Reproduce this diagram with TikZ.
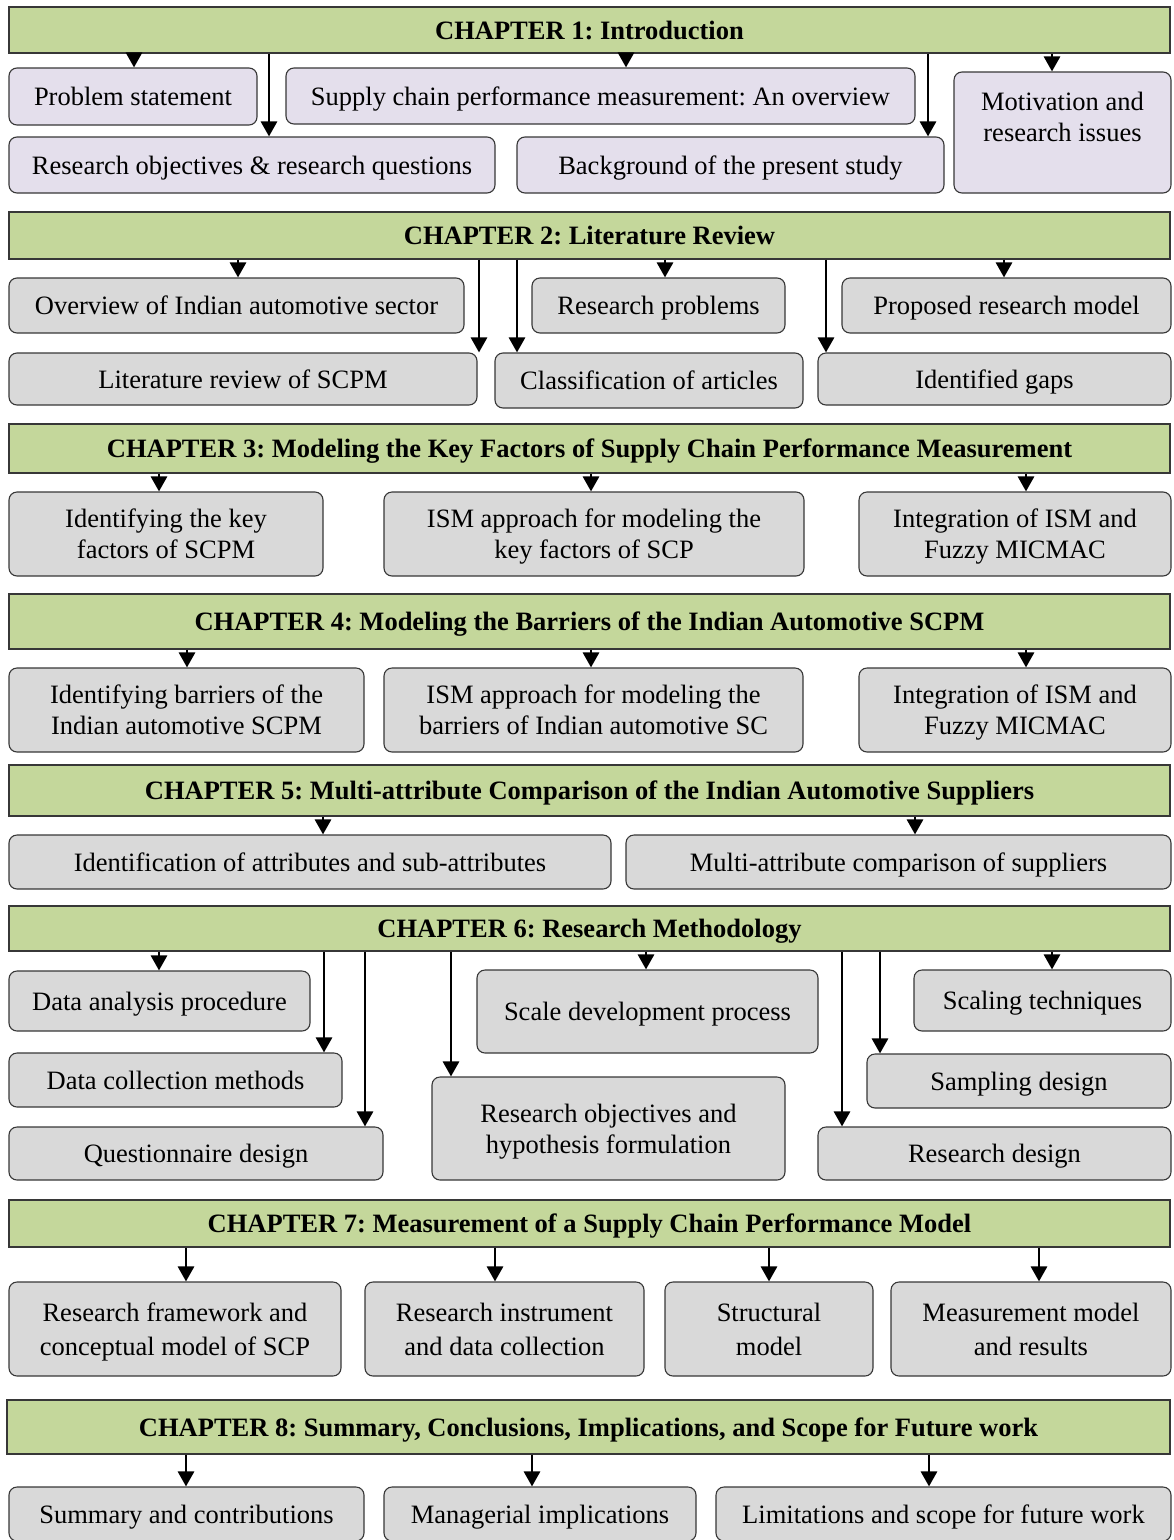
\documentclass[tikz,border=0pt]{standalone}
\usepackage{fontspec}
\setmainfont{Liberation Serif}
\usetikzlibrary{arrows.meta}
\definecolor{hdrgreen}{RGB}{196,215,155}
\definecolor{boxlav}{RGB}{228,223,236}
\definecolor{boxgrey}{RGB}{217,217,217}
\definecolor{edgegrey}{RGB}{55,55,55}
\tikzset{
  base/.style={draw=edgegrey, line width=1.1pt, inner sep=0pt, align=center,
    text depth=0pt, font=\fontsize{26.5}{31}\selectfont\frenchspacing},
  chapter/.style={base, fill=hdrgreen,
    font=\fontsize{26.5}{31}\selectfont\frenchspacing\bfseries},
  lavbox/.style={base, fill=boxlav, rounded corners=8pt},
  greybox/.style={base, fill=boxgrey, rounded corners=8pt},
  tallgrey/.style={greybox, font=\fontsize{26.5}{34}\selectfont\frenchspacing},
  arr/.style={line width=2.8pt, -{Triangle[length=15pt,width=16pt]}},
}
% \bx{name}{style}{x1}{y1}{x2}{y2}{text}: box from top-left to bottom-right
\newcommand\bx[7]{\node[#2, minimum width={#5-#3}, minimum height={#6-#4}] (#1) at ({(#3+#5)/2},{(#4+#6)/2}) {#7};}
% \link{from}{to}{x}: vertical arrow at position x
\newcommand\link[3]{\draw[arr] (#3,0 |- #1.south) -- (#3,0 |- #2.north);}
\begin{document}
\begin{tikzpicture}[x=1pt, y=-1pt]
\useasboundingbox (0,0) rectangle (1174,1540);
\clip (0,0) rectangle (1174,1540);

% Chapter 1
\bx{h1}{chapter}{9}{7}{1170}{53}{CHAPTER 1: Introduction}
\bx{c1a}{lavbox}{9}{68}{257}{125}{Problem statement}
\bx{c1b}{lavbox}{286}{68}{915}{124}{Supply chain performance measurement: An overview}
\bx{c1c}{lavbox}{9}{137}{495}{193}{Research objectives \& research questions}
\bx{c1d}{lavbox}{517}{137}{944}{193}{Background of the present study}
\bx{c1e}{lavbox}{954}{72}{1171}{193}{Motivation and\\research issues\\\mbox{}}
\link{h1}{c1a}{134}
\link{h1}{c1c}{269}
\link{h1}{c1b}{626}
\link{h1}{c1d}{928}
\link{h1}{c1e}{1052}

% Chapter 2
\bx{h2}{chapter}{9}{212}{1170}{259}{CHAPTER 2: Literature Review}
\bx{c2a}{greybox}{9}{278}{464}{333}{Overview of Indian automotive sector}
\bx{c2b}{greybox}{532}{278}{785}{333}{Research problems}
\bx{c2c}{greybox}{842}{278}{1171}{333}{Proposed research model}
\bx{c2d}{greybox}{9}{353}{477}{405}{Literature review of SCPM}
\bx{c2e}{greybox}{495}{353}{803}{408}{Classification of articles}
\bx{c2f}{greybox}{818}{353}{1171}{405}{Identified gaps}
\link{h2}{c2a}{238}
\link{h2}{c2d}{479}
\link{h2}{c2e}{517}
\link{h2}{c2b}{665}
\link{h2}{c2f}{826}
\link{h2}{c2c}{1004}

% Chapter 3
\bx{h3}{chapter}{9}{424}{1170}{473}{CHAPTER 3: Modeling the Key Factors of Supply Chain Performance Measurement}
\bx{c3a}{greybox}{9}{492}{323}{576}{Identifying the key\\factors of SCPM}
\bx{c3b}{greybox}{384}{492}{804}{576}{ISM approach for modeling the\\key factors of SCP}
\bx{c3c}{greybox}{859}{492}{1171}{576}{Integration of ISM and\\Fuzzy MICMAC}
\link{h3}{c3a}{159}
\link{h3}{c3b}{591}
\link{h3}{c3c}{1026}

% Chapter 4
\bx{h4}{chapter}{9}{594}{1170}{649}{CHAPTER 4: Modeling the Barriers of the Indian Automotive SCPM}
\bx{c4a}{greybox}{9}{668}{364}{752}{Identifying barriers of the\\Indian automotive SCPM}
\bx{c4b}{greybox}{384}{668}{803}{752}{ISM approach for modeling the\\barriers of Indian automotive SC}
\bx{c4c}{greybox}{859}{668}{1171}{752}{Integration of ISM and\\Fuzzy MICMAC}
\link{h4}{c4a}{187}
\link{h4}{c4b}{591}
\link{h4}{c4c}{1026}

% Chapter 5
\bx{h5}{chapter}{9}{765}{1170}{816}{CHAPTER 5: Multi-attribute Comparison of the Indian Automotive Suppliers}
\bx{c5a}{greybox}{9}{835}{611}{889}{Identification of attributes and sub-attributes}
\bx{c5b}{greybox}{626}{835}{1171}{889}{Multi-attribute comparison of suppliers}
\link{h5}{c5a}{323}
\link{h5}{c5b}{915}

% Chapter 6
\bx{h6}{chapter}{9}{906}{1170}{951}{CHAPTER 6: Research Methodology}
\bx{c6a}{greybox}{9}{971}{310}{1031}{Data analysis procedure}
\bx{c6b}{greybox}{9}{1053}{342}{1107}{Data collection methods}
\bx{c6c}{greybox}{9}{1127}{383}{1180}{Questionnaire design}
\bx{c6d}{greybox}{477}{970}{818}{1053}{Scale development process}
\bx{c6e}{greybox}{432}{1077}{785}{1180}{Research objectives and\\hypothesis formulation}
\bx{c6f}{greybox}{914}{970}{1171}{1031}{Scaling techniques}
\bx{c6g}{greybox}{867}{1054}{1171}{1108}{Sampling design}
\bx{c6h}{greybox}{818}{1127}{1171}{1180}{Research design}
\link{h6}{c6a}{159}
\link{h6}{c6b}{324}
\link{h6}{c6c}{365}
\link{h6}{c6e}{451}
\link{h6}{c6d}{646}
\link{h6}{c6h}{842}
\link{h6}{c6g}{880}
\link{h6}{c6f}{1052}

% Chapter 7
\bx{h7}{chapter}{9}{1200}{1170}{1247}{CHAPTER 7: Measurement of a Supply Chain Performance Model}
\bx{c7a}{tallgrey}{9}{1282}{341}{1376}{Research framework and\\conceptual model of SCP}
\bx{c7b}{tallgrey}{365}{1282}{644}{1376}{Research instrument\\and data collection}
\bx{c7c}{tallgrey}{665}{1282}{873}{1376}{Structural\\model}
\bx{c7d}{tallgrey}{891}{1282}{1171}{1376}{Measurement model\\and results}
\link{h7}{c7a}{186}
\link{h7}{c7b}{495}
\link{h7}{c7c}{769}
\link{h7}{c7d}{1039}

% Chapter 8
\bx{h8}{chapter}{7}{1400}{1170}{1454}{CHAPTER 8: Summary, Conclusions, Implications, and Scope for Future work}
\bx{c8a}{greybox}{9}{1487}{364}{1541}{Summary and contributions}
\bx{c8b}{greybox}{384}{1487}{696}{1541}{Managerial implications}
\bx{c8c}{greybox}{716}{1487}{1171}{1541}{Limitations and scope for future work}
\link{h8}{c8a}{186}
\link{h8}{c8b}{532}
\link{h8}{c8c}{929}
\end{tikzpicture}
\end{document}
